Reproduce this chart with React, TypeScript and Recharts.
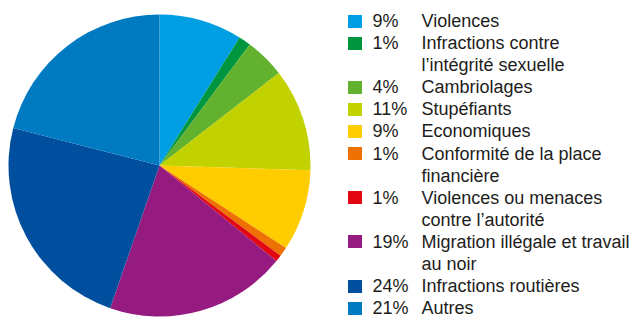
import React from "react";
import { PieChart, Pie, Cell } from "recharts";

const categories = [
  "Violences",
  "Infractions contre\nl’intégrité sexuelle",
  "Cambriolages",
  "Stupéfiants",
  "Economiques",
  "Conformité de la place\nfinancière",
  "Violences ou menaces\ncontre l’autorité",
  "Migration illégale et travail\nau noir",
  "Infractions routières",
  "Autres",
];
const percentLabels = ["9%", "1%", "4%", "11%", "9%", "1%", "1%", "19%", "24%", "21%"];
const shares = [8.9, 1.3, 4.3, 11.0, 8.7, 1.0, 0.7, 19.4, 23.7, 21.0];
const colors = [
  "#009FE3",
  "#00963F",
  "#63B22F",
  "#C2D100",
  "#FFCC00",
  "#EE7203",
  "#E30613",
  "#951B80",
  "#004F9E",
  "#007BC1",
];

const data = categories.map((name, i) => ({ name, value: shares[i], pct: percentLabels[i], color: colors[i] }));

const LINE_H = 22.1;

function LegendBlock() {
  return (
    <div
      style={{
        position: "absolute",
        left: 348,
        top: 10,
        width: 285,
        fontFamily: "'Liberation Sans', Arial, sans-serif",
        fontSize: 18,
        lineHeight: `${LINE_H}px`,
        color: "#1d1d1b",
        textAlign: "left",
      }}
    >
      {data.map((d, i) => {
        const lines = d.name.split("\n");
        return (
          <div key={i} style={{ position: "relative", height: lines.length * LINE_H }}>
            <div
              style={{
                position: "absolute",
                left: 0,
                top: 4.5,
                width: 14,
                height: 13,
                background: d.color,
              }}
            />
            <div style={{ position: "absolute", left: 24.5, top: 0, whiteSpace: "nowrap" }}>{d.pct}</div>
            <div style={{ position: "absolute", left: 73.5, top: 0, whiteSpace: "pre" }}>{d.name}</div>
          </div>
        );
      })}
    </div>
  );
}

export default function App() {
  return (
    <div style={{ position: "absolute", left: 0, top: 0, width: 633, height: 318, background: "#fff" }}>
      <PieChart width={633} height={318} margin={{ top: 0, right: 0, bottom: 0, left: 0 }}>
        <Pie
          data={data}
          dataKey="value"
          nameKey="name"
          cx={159.5}
          cy={165.5}
          outerRadius={151}
          startAngle={90}
          endAngle={-270}
          stroke="none"
          isAnimationActive={false}
        >
          {data.map((d, i) => (
            <Cell key={i} fill={d.color} />
          ))}
        </Pie>
      </PieChart>
      <LegendBlock />
    </div>
  );
}
